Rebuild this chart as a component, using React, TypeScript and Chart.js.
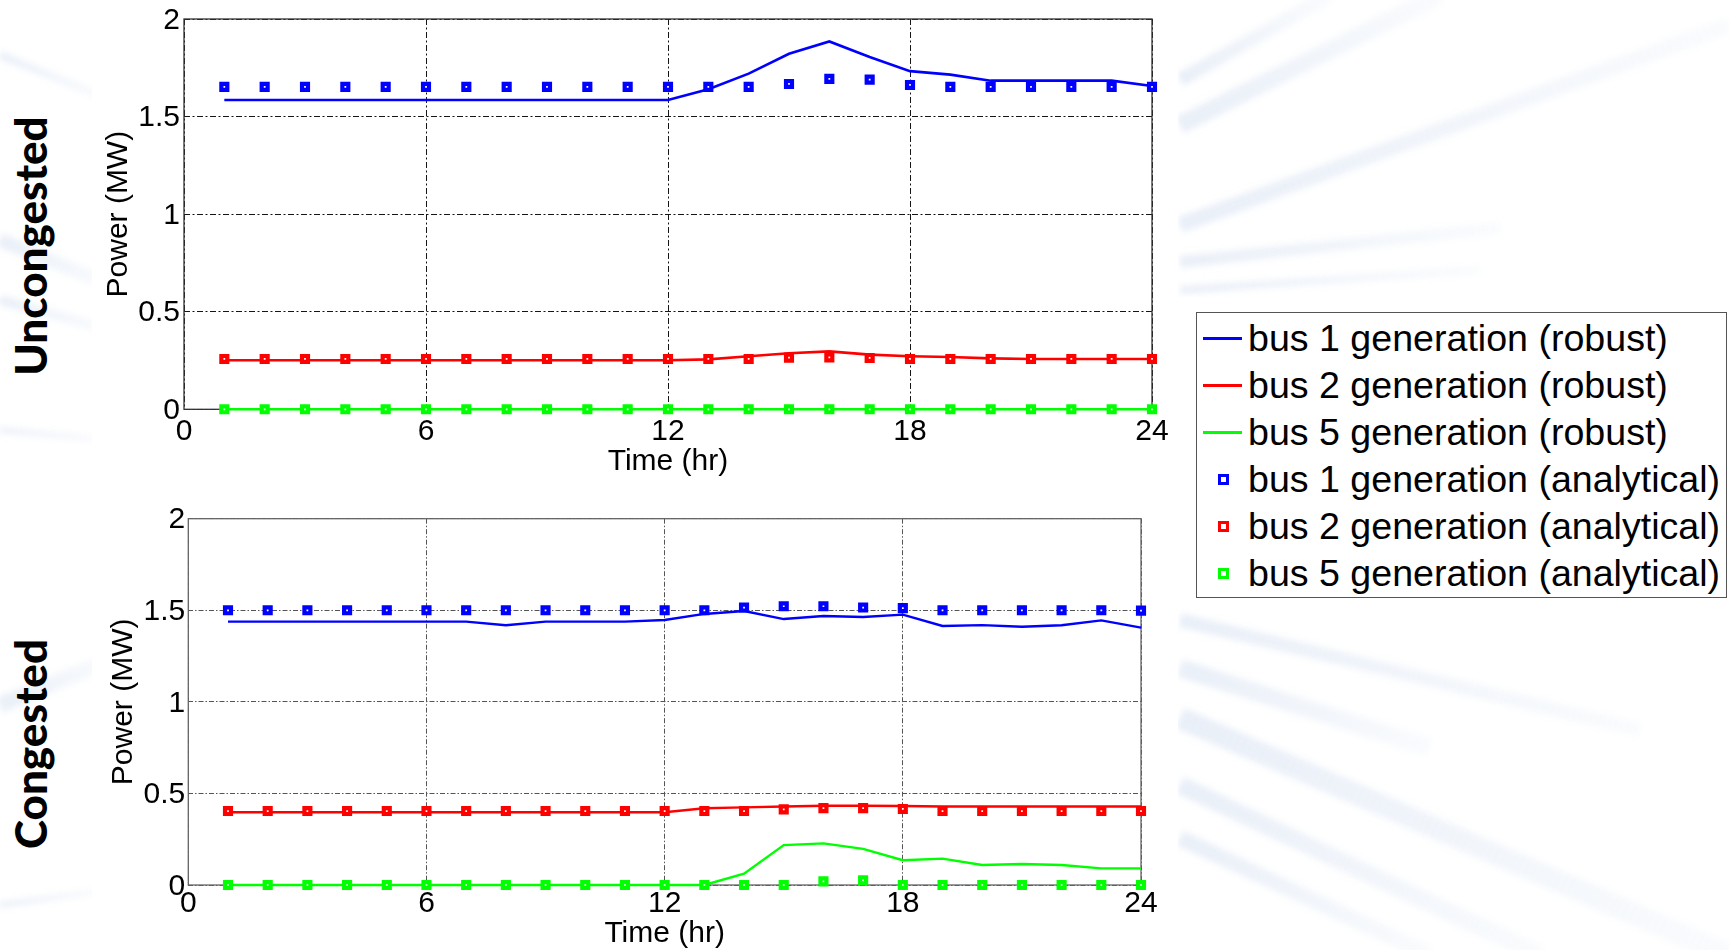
import React, { useEffect, useRef } from "react";
import { Chart, registerables } from "chart.js";

Chart.register(...registerables);

// ---------------- data ----------------
const hours = [1, 2, 3, 4, 5, 6, 7, 8, 9, 10, 11, 12, 13, 14, 15, 16, 17, 18, 19, 20, 21, 22, 23, 24];
const xTickValues = [0, 6, 12, 18, 24];
const yTickValues = [0, 0.5, 1, 1.5, 2];

const seriesLabels = [
  "bus 1 generation (robust)",
  "bus 2 generation (robust)",
  "bus 5 generation (robust)",
  "bus 1 generation (analytical)",
  "bus 2 generation (analytical)",
  "bus 5 generation (analytical)",
];
const seriesColors = ["#0000FF", "#FF0000", "#00FF00"];

// Uncongested
const uncBus1Robust = [1.585, 1.585, 1.585, 1.585, 1.585, 1.585, 1.585, 1.585, 1.585, 1.585, 1.585, 1.585, 1.64, 1.72, 1.822, 1.885, 1.805, 1.733, 1.715, 1.684, 1.684, 1.684, 1.684, 1.657];
const uncBus2Robust = [0.251, 0.251, 0.251, 0.251, 0.251, 0.251, 0.251, 0.251, 0.251, 0.251, 0.251, 0.251, 0.256, 0.272, 0.287, 0.297, 0.28, 0.272, 0.268, 0.261, 0.258, 0.258, 0.258, 0.258];
const uncBus5Robust = [0, 0, 0, 0, 0, 0, 0, 0, 0, 0, 0, 0, 0, 0, 0, 0, 0, 0, 0, 0, 0, 0, 0, 0];
const uncBus1Analytical = [1.652, 1.652, 1.652, 1.652, 1.652, 1.652, 1.652, 1.652, 1.652, 1.652, 1.652, 1.652, 1.652, 1.652, 1.667, 1.693, 1.689, 1.662, 1.652, 1.652, 1.652, 1.652, 1.652, 1.652];
const uncBus2Analytical = [0.258, 0.258, 0.258, 0.258, 0.258, 0.258, 0.258, 0.258, 0.258, 0.258, 0.258, 0.258, 0.258, 0.258, 0.265, 0.266, 0.263, 0.258, 0.258, 0.258, 0.258, 0.258, 0.258, 0.258];
const uncBus5Analytical = [0, 0, 0, 0, 0, 0, 0, 0, 0, 0, 0, 0, 0, 0, 0, 0, 0, 0, 0, 0, 0, 0, 0, 0];

// Congested
const conBus1Robust = [1.438, 1.438, 1.438, 1.438, 1.438, 1.438, 1.438, 1.418, 1.438, 1.438, 1.438, 1.447, 1.48, 1.496, 1.452, 1.469, 1.463, 1.476, 1.414, 1.419, 1.41, 1.418, 1.445, 1.405];
const conBus2Robust = [0.397, 0.397, 0.397, 0.397, 0.397, 0.397, 0.397, 0.397, 0.397, 0.397, 0.397, 0.397, 0.419, 0.424, 0.429, 0.433, 0.433, 0.431, 0.429, 0.429, 0.429, 0.429, 0.429, 0.429];
const conBus5Robust = [0, 0, 0, 0, 0, 0, 0, 0, 0, 0, 0, 0, 0, 0.062, 0.218, 0.227, 0.197, 0.135, 0.144, 0.109, 0.115, 0.109, 0.091, 0.091];
const conBus1Analytical = [1.5, 1.5, 1.5, 1.5, 1.5, 1.5, 1.5, 1.5, 1.5, 1.5, 1.5, 1.5, 1.5, 1.515, 1.522, 1.522, 1.515, 1.512, 1.5, 1.5, 1.5, 1.5, 1.5, 1.498];
const conBus2Analytical = [0.404, 0.404, 0.404, 0.404, 0.404, 0.404, 0.404, 0.404, 0.404, 0.404, 0.404, 0.404, 0.404, 0.404, 0.413, 0.42, 0.42, 0.415, 0.404, 0.404, 0.404, 0.404, 0.404, 0.404];
const conBus5Analytical = [0, 0, 0, 0, 0, 0, 0, 0, 0, 0, 0, 0, 0, 0, 0, 0.02, 0.025, 0, 0, 0, 0, 0, 0, 0];

const panelTitles = ["Uncongested", "Congested"];
const xTitle = "Time (hr)";
const yTitle = "Power (MW)";

// ---------------- styling ----------------
const FONT = "'Liberation Sans', Arial, Helvetica, sans-serif";

type Geom = {
  left: number;
  top: number;
  width: number;
  height: number;
  padTop: number;
  padRight: number;
  yAxisWidth: number;
  xAxisHeight: number;
  xTickPad: number;
  yTickPad: number;
  xTitlePadBottom: number;
  yTitlePadTop: number;
  gridColor: string;
  boxColor: string;
  dash: number[];
  lineWidth: number;
};

const topGeom: Geom = {
  left: 60, top: 0, width: 1120, height: 480,
  padTop: 16.7, padRight: 28, yAxisWidth: 124, xAxisHeight: 70.7,
  xTickPad: 7, yTickPad: 4, xTitlePadBottom: 3, yTitlePadTop: 44,
  gridColor: "#151515", boxColor: "#333", dash: [6, 2.5, 2, 2.5], lineWidth: 2.6,
};
const bottomGeom: Geom = {
  left: 60, top: 480, width: 1120, height: 470,
  padTop: 38.7, padRight: 39, yAxisWidth: 128.3, xAxisHeight: 65,
  xTickPad: 4, yTickPad: 3, xTitlePadBottom: 1, yTitlePadTop: 48.5,
  gridColor: "#555", boxColor: "#666", dash: [5, 2, 1.5, 2], lineWidth: 2.4,
};

const boxPlugin = {
  id: "boxPlugin",
  beforeDatasetsDraw(chart: any, _args: any, opts: any) {
    const { ctx, chartArea } = chart;
    ctx.save();
    ctx.strokeStyle = opts.color || "#333";
    ctx.lineWidth = 1.3;
    ctx.setLineDash([]);
    ctx.strokeRect(chartArea.left, chartArea.top, chartArea.right - chartArea.left, chartArea.bottom - chartArea.top);
    ctx.restore();
  },
};

function toPoints(values: number[]) {
  return hours.map((h, i) => ({ x: h, y: values[i] }));
}

function buildConfig(robust: number[][], analytical: number[][], g: Geom): any {
  const datasets: any[] = [];
  robust.forEach((vals, i) => {
    datasets.push({
      label: seriesLabels[i],
      data: toPoints(vals),
      borderColor: seriesColors[i],
      backgroundColor: seriesColors[i],
      borderWidth: g.lineWidth,
      pointRadius: 0,
      tension: 0,
      order: 2,
      clip: false,
    });
  });
  analytical.forEach((vals, i) => {
    datasets.push({
      label: seriesLabels[i + 3],
      data: toPoints(vals),
      showLine: false,
      pointStyle: "rect",
      pointRadius: 4.2,
      pointBorderWidth: 4.2,
      pointBorderColor: seriesColors[i],
      pointBackgroundColor: "#ffffff",
      borderColor: seriesColors[i],
      order: 1,
      clip: false,
    });
  });

  return {
    type: "line",
    data: { datasets },
    plugins: [boxPlugin],
    options: {
      responsive: false,
      animation: false,
      devicePixelRatio: 1,
      layout: { padding: { left: 0, top: g.padTop, right: g.padRight, bottom: 0 } },
      plugins: {
        legend: { display: false },
        tooltip: { enabled: false },
        boxPlugin: { color: g.boxColor },
      },
      events: [],
      scales: {
        x: {
          type: "linear",
          min: 0,
          max: 24,
          afterBuildTicks: (scale: any) => {
            scale.ticks = xTickValues.map((v) => ({ value: v }));
          },
          afterFit: (scale: any) => {
            scale.height = g.xAxisHeight;
          },
          ticks: {
            color: "#000",
            padding: g.xTickPad,
            maxRotation: 0,
            font: { family: FONT, size: 30, lineHeight: 1 },
            callback: (v: any) => String(v),
          },
          grid: { color: g.gridColor, lineWidth: 1, drawTicks: false },
          border: { display: false, dash: g.dash },
          title: {
            display: true,
            text: xTitle,
            color: "#000",
            font: { family: FONT, size: 30, lineHeight: 1 },
            padding: { top: 0, bottom: g.xTitlePadBottom },
          },
        },
        y: {
          type: "linear",
          min: 0,
          max: 2,
          afterBuildTicks: (scale: any) => {
            scale.ticks = yTickValues.map((v) => ({ value: v }));
          },
          afterFit: (scale: any) => {
            scale.width = g.yAxisWidth;
          },
          ticks: {
            color: "#000",
            padding: g.yTickPad,
            labelOffset: 1.5,
            font: { family: FONT, size: 30, lineHeight: 1 },
            callback: (v: any) => String(v),
          },
          grid: { color: g.gridColor, lineWidth: 1, drawTicks: false },
          border: { display: false, dash: g.dash },
          title: {
            display: true,
            text: yTitle,
            color: "#000",
            font: { family: FONT, size: 30, lineHeight: 1 },
            padding: { top: g.yTitlePadTop, bottom: 0 },
          },
        },
      },
    },
  };
}

// ---------------- decorative background streaks ----------------
const streaks = [
  { x1: 0, y1: 55, x2: 110, y2: 100, w: 8 },
  { x1: 0, y1: 240, x2: 110, y2: 285, w: 14 },
  { x1: 0, y1: 300, x2: 110, y2: 330, w: 10 },
  { x1: 0, y1: 430, x2: 110, y2: 440, w: 6 },
  { x1: 0, y1: 705, x2: 110, y2: 660, w: 16 },
  { x1: 0, y1: 905, x2: 110, y2: 890, w: 6 },
  { x1: 1180, y1: 80, x2: 1330, y2: -5, w: 14 },
  { x1: 1180, y1: 125, x2: 1440, y2: -5, w: 18 },
  { x1: 1180, y1: 225, x2: 1729, y2: 25, w: 16 },
  { x1: 1180, y1: 262, x2: 1500, y2: 228, w: 12 },
  { x1: 1180, y1: 290, x2: 1480, y2: 270, w: 8 },
  { x1: 1180, y1: 620, x2: 1640, y2: 730, w: 14 },
  { x1: 1180, y1: 668, x2: 1430, y2: 748, w: 18 },
  { x1: 1180, y1: 718, x2: 1729, y2: 955, w: 22 },
  { x1: 1180, y1: 785, x2: 1540, y2: 955, w: 18 },
  { x1: 1180, y1: 838, x2: 1430, y2: 955, w: 16 },
];

function Streak({ s }: { s: { x1: number; y1: number; x2: number; y2: number; w: number } }) {
  const dx = s.x2 - s.x1;
  const dy = s.y2 - s.y1;
  const len = Math.sqrt(dx * dx + dy * dy);
  const ang = (Math.atan2(dy, dx) * 180) / Math.PI;
  return (
    <div
      style={{
        position: "absolute",
        left: s.x1,
        top: s.y1 - s.w / 2,
        width: len,
        height: s.w,
        transformOrigin: "0 50%",
        transform: `rotate(${ang}deg)`,
        background: "linear-gradient(90deg, rgba(215,226,242,0.55), rgba(228,236,247,0.2))",
        filter: "blur(3px)",
      }}
    />
  );
}

function ChartPanel({ robust, analytical, g }: { robust: number[][]; analytical: number[][]; g: Geom }) {
  const ref = useRef<HTMLCanvasElement | null>(null);
  useEffect(() => {
    if (!ref.current) return;
    const chart = new Chart(ref.current, buildConfig(robust, analytical, g));
    return () => chart.destroy();
  }, []);
  return (
    <canvas
      ref={ref}
      width={g.width}
      height={g.height}
      style={{ position: "absolute", left: g.left, top: g.top, width: g.width, height: g.height }}
    />
  );
}

function LegendBox() {
  const rows = seriesLabels.map((label, i) => {
    const color = seriesColors[i % 3];
    const isLine = i < 3;
    return (
      <div key={label} style={{ position: "relative", height: 47, lineHeight: "47px", whiteSpace: "nowrap" }}>
        {isLine ? (
          <div style={{ position: "absolute", left: 6, top: 22, width: 39, height: 3, background: color }} />
        ) : (
          <div
            style={{
              position: "absolute",
              left: 21,
              top: 18,
              width: 11,
              height: 11,
              boxSizing: "border-box",
              border: `3.5px solid ${color}`,
              background: "#fff",
            }}
          />
        )}
        <span style={{ position: "absolute", left: 51, top: 0, fontFamily: FONT, fontSize: 37.6, color: "#000" }}>
          {label}
        </span>
      </div>
    );
  });
  return (
    <div
      style={{
        position: "absolute",
        left: 1196,
        top: 312,
        width: 531,
        height: 286,
        boxSizing: "border-box",
        border: "1.5px solid #555",
        background: "#fff",
        paddingTop: 2,
      }}
    >
      {rows}
    </div>
  );
}

export default function App() {
  useEffect(() => {
    document.body.style.margin = "0";
  }, []);
  const labelStyle = (cy: number): React.CSSProperties => ({
    position: "absolute",
    left: 30,
    top: cy,
    transform: "translate(-50%, -50%) rotate(-90deg)",
    fontFamily: "Lato, 'Open Sans', sans-serif",
    fontWeight: 900,
    fontSize: 44,
    color: "#000",
    whiteSpace: "nowrap",
    lineHeight: 1,
  });
  return (
    <div style={{ position: "absolute", left: 0, top: 0, width: 1729, height: 950, overflow: "hidden", background: "#fff" }}>
      {streaks.map((s, i) => (
        <Streak key={i} s={s} />
      ))}
      <div style={{ position: "absolute", left: 92, top: 0, width: 1086, height: 950, background: "#fff" }} />
      <div style={{ position: "absolute", left: 1178, top: 297, width: 551, height: 312, background: "#fff" }} />
      <div style={labelStyle(245.5)}>{panelTitles[0]}</div>
      <div style={labelStyle(743.5)}>{panelTitles[1]}</div>
      <ChartPanel
        robust={[uncBus1Robust, uncBus2Robust, uncBus5Robust]}
        analytical={[uncBus1Analytical, uncBus2Analytical, uncBus5Analytical]}
        g={topGeom}
      />
      <ChartPanel
        robust={[conBus1Robust, conBus2Robust, conBus5Robust]}
        analytical={[conBus1Analytical, conBus2Analytical, conBus5Analytical]}
        g={bottomGeom}
      />
      <LegendBox />
    </div>
  );
}
